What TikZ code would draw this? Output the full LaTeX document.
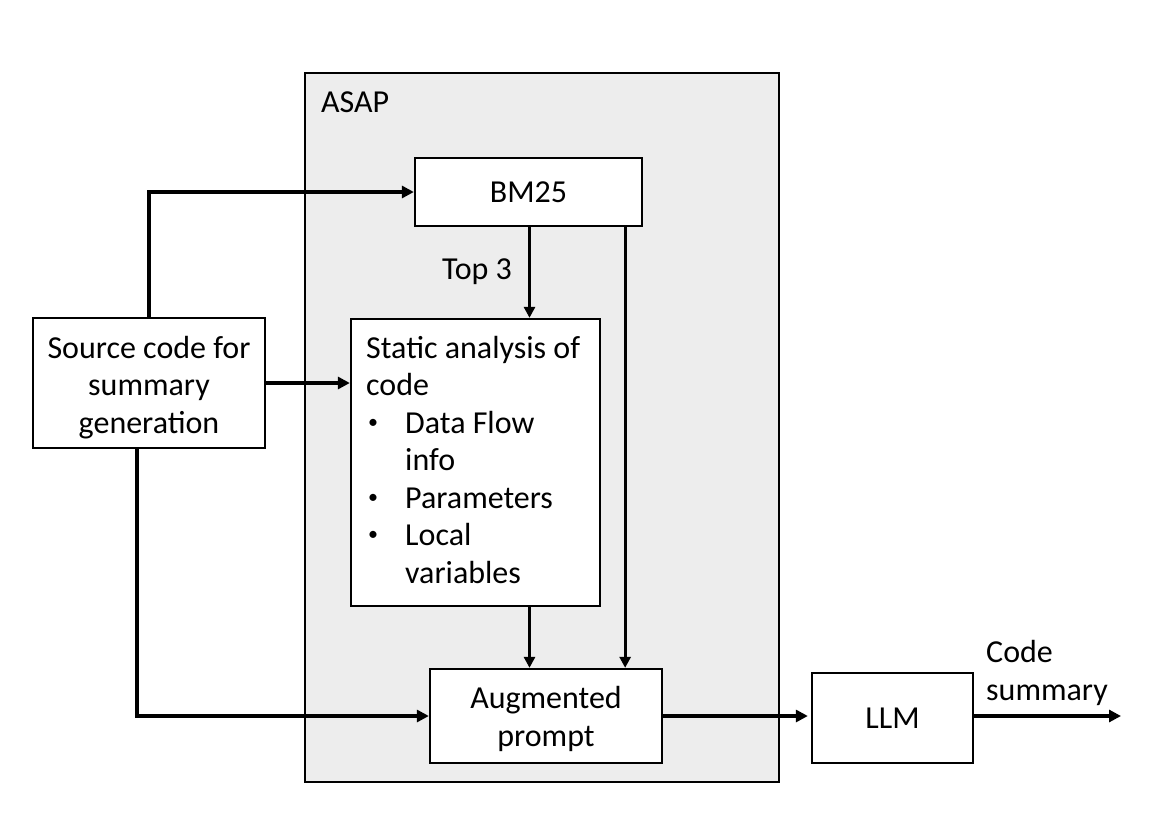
\documentclass[tikz,border=0pt]{standalone}
\usepackage{fontspec}
\setmainfont{Carlito}
\usetikzlibrary{arrows.meta,calc}
\definecolor{asapgray}{RGB}{237,237,237}
\newcommand{\smallbul}{\makebox[39pt][l]{\hspace*{2pt}\raisebox{5pt}{\fontsize{20}{20}\selectfont •}}}
\begin{document}
\begin{tikzpicture}[x=1pt,y=-1pt,
  every node/.style={font=\fontsize{32}{37.5}\selectfont},
  box/.style={draw=black,line width=2.3pt,fill=white,inner sep=0pt,align=center},
  conn/.style={line width=4pt,-{Triangle[length=12pt,width=12pt]}},
  connthin/.style={line width=3pt,-{Triangle[length=11pt,width=11pt]}}]
\useasboundingbox (0,0) rectangle (1152,822);
% ASAP container
\node[draw=black,line width=2.3pt,fill=asapgray,minimum width=474pt,minimum height=709pt,inner sep=0pt] (asap) at (542,427.5) {};
\node[anchor=west,inner sep=0pt] (asaplbl) at (321,102) {ASAP};
% boxes
\node[box,minimum width=227pt,minimum height=68pt] (bm) at (528.5,192) {BM25};
\node[box,minimum width=232pt,minimum height=130pt] (src) at (149,383) {\parbox{230pt}{\centering\vspace*{9pt}Source code for\\summary\\generation}};
\node[box,minimum width=249pt,minimum height=287pt] (static) at (475.5,462.5) {};
\node[anchor=north west,inner sep=0pt,align=left] (stext) at (366,336)
  {Static analysis of\\code\\\smallbul Data Flow\\\hspace*{39pt}info\\\smallbul Parameters\\\smallbul Local\\\hspace*{39pt}variables};
\node[box,minimum width=232pt,minimum height=94pt] (aug) at (546,716) {\parbox{230pt}{\centering\vspace*{6pt}Augmented\\prompt}};
\node[box,minimum width=161pt,minimum height=90pt] (llm) at (892.5,718) {LLM};
\node[anchor=west,inner sep=0pt,align=left] (cs) at (986,673) {Code\\summary};
\node[inner sep=0pt] (top3) at (477,272) {Top 3};
\coordinate (out) at (1121,716);
% connectors
\draw[conn] (src.north) |- (bm.west);
\draw[conn] (src.east) -- (src.east -| static.west);
\draw[conn] ([xshift=-12pt]src.south) |- (aug.west);
\draw[connthin] ([xshift=1pt]bm.south) -- ([xshift=1pt]bm.south |- static.north);
\draw[connthin] ([xshift=1pt]bm.south |- static.south) -- ([xshift=1pt]bm.south |- aug.north);
\draw[connthin] ([xshift=-18pt]bm.south east) -- ([xshift=-18pt]bm.south east |- aug.north);
\draw[conn] (aug.east) -- ([xshift=-3pt]aug.east -| llm.west);
\draw[conn] (llm.east |- out) -- (out);
\end{tikzpicture}
\end{document}
